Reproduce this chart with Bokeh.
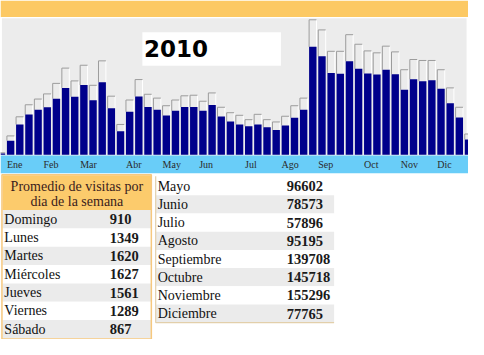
from bokeh.plotting import figure
from bokeh.models import Range1d, ColumnDataSource
from bokeh.core.properties import value
from bokeh.embed import file_html
from bokeh.resources import INLINE

# ---------------- data ----------------
week_index = list(range(52))
# weekly visits (dark bars), relative units
weekly_visits = [1.3, 14.7, 31.7, 42, 47, 49.7, 58.7, 70, 60.7, 73, 57, 76, 48.7, 24.7,
                 45, 61, 50, 47, 41, 46, 50, 50, 46, 52, 40, 34.7, 31.7, 29.7, 31.7, 28.7,
                 26, 30.7, 38.7, 47, 113, 103, 85.7, 84.7, 98, 90, 85, 84, 89, 84.3, 68,
                 79, 77, 78, 69, 54, 39, 16]
# weekly upper value (grey outlined bars)
weekly_upper = [2.0, 19.7, 39.7, 52.3, 58.3, 63.7, 74.7, 90.7, 77.3, 93.7, 72.7, 98.3, 61.3,
                31.7, 57.3, 78.7, 63.3, 59.3, 51.3, 57.3, 61.7, 62.3, 56, 64.7, 49.7, 44,
                41.3, 36.7, 42.3, 36.7, 34.3, 40.3, 51.3, 59.3, 141.3, 130.7, 108.3, 108.3,
                125.7, 115.7, 108.7, 106.7, 113.7, 107.7, 89, 99.7, 98.7, 98.7, 89, 70, 49.7,
                21.7]
month_names = ["Ene", "Feb", "Mar", "Abr", "May", "Jun", "Jul", "Ago", "Sep", "Oct", "Nov", "Dic"]
month_start_week = [1, 5, 9, 14, 18, 22, 27, 31, 35, 40, 44, 48]
title_year = "2010"

weekday_header = ["Promedio de visitas por", "dia de la semana"]
weekday_names = ["Domingo", "Lunes", "Martes", "Miércoles", "Jueves", "Viernes", "Sábado"]
weekday_avg = [910, 1349, 1620, 1627, 1561, 1289, 867]

month_table_names = ["Mayo", "Junio", "Julio", "Agosto", "Septiembre", "Octubre",
                     "Noviembre", "Diciembre"]
month_table_visits = [96602, 78573, 57896, 95195, 139708, 145718, 155296, 77765]

# ---------------- layout (reference pixel frame) ----------------
W, H = 468, 339
REF_W, REF_H = 484, 355
PX_PER_WEEK = 9.47
FIRST_CENTER = 1.0
BASE = 161.5
BAR_W = 0.81

ORANGE = "#FCC964"
GRAY_BG = "#ECECEC"
BLUE = "#69CDF8"
NAVY = "#00008B"
ROW_GRAY = "#EBEBEB"
SERIF = value("Liberation Serif")

p = figure(width=W, height=H, x_range=Range1d(0, REF_W), y_range=Range1d(REF_H, 0),
           x_axis_type=None, y_axis_type=None, output_backend="svg",
           toolbar_location=None, min_border=0)
p.grid.visible = False
p.outline_line_color = None
p.background_fill_color = "white"
p.border_fill_color = "white"

p.extra_x_ranges = {"wk": Range1d(-FIRST_CENTER / PX_PER_WEEK, (REF_W - FIRST_CENTER) / PX_PER_WEEK)}
p.extra_y_ranges = {"v": Range1d(BASE - REF_H, BASE)}

# page bands
p.quad(left=[0], right=[REF_W], top=[0], bottom=[17.3], fill_color=ORANGE, line_color=None)
p.quad(left=[1.5], right=[482], top=[18.5], bottom=[162.3], fill_color=GRAY_BG, line_color=None)
p.quad(left=[0], right=[REF_W], top=[162.3], bottom=[181], fill_color=BLUE, line_color=None)

# title box
p.quad(left=[146.7], right=[290], top=[33.3], bottom=[68.3], fill_color="white", line_color=None)
p.text(x=[148.5], y=[50], text=[title_year], text_font=value("DejaVu Sans"),
       text_font_style="bold", text_font_size=value("23px"), text_color="black",
       text_baseline="middle", text_align="left")

# bars
left = [w - BAR_W / 2 for w in week_index]
right = [w + BAR_W / 2 for w in week_index]
src = ColumnDataSource(dict(x=week_index, top=weekly_visits, upper=weekly_upper,
                            left=left, right=right))
p.vbar(x="x", width=BAR_W, bottom=0, top="upper", source=src, fill_color=GRAY_BG,
       line_color=None, x_range_name="wk", y_range_name="v")
p.segment(x0="right", y0="top", x1="right", y1="upper", source=src, line_color="white",
          line_width=1, x_range_name="wk", y_range_name="v")
p.segment(x0="left", y0="top", x1="left", y1="upper", source=src, line_color="#9C9C9C",
          line_width=1, x_range_name="wk", y_range_name="v")
p.segment(x0="left", y0="upper", x1="right", y1="upper", source=src, line_color="#9C9C9C",
          line_width=1, x_range_name="wk", y_range_name="v")
p.vbar(x="x", width=BAR_W, bottom=0, top="top", source=src, fill_color=NAVY,
       line_color=None, x_range_name="wk", y_range_name="v")

# month labels
p.text(x=[m - BAR_W / 2 for m in month_start_week], y=[171.5] * len(month_names),
       text=month_names, text_font=SERIF, text_font_size=value("10px"),
       text_color="#2B2B2B", text_baseline="middle", text_align="left",
       x_range_name="wk")

# ---------------- left table ----------------
LT_L, LT_R = 2, 156
HDR_T, HDR_B = 183, 219.5
ROW_H1 = 19.2
p.quad(left=[LT_L], right=[LT_R], top=[HDR_T], bottom=[HDR_B], fill_color="#FCCB6C",
       line_color=None)
n1 = len(weekday_names)
p.quad(left=[LT_L] * n1, right=[LT_R] * n1,
       top=[HDR_B + ROW_H1 * i for i in range(n1)],
       bottom=[HDR_B + ROW_H1 * (i + 1) for i in range(n1)],
       fill_color=[ROW_GRAY if i % 2 == 0 else "white" for i in range(n1)], line_color=None)
p.quad(left=[1.5], right=[156], top=[182.5], bottom=[354.5], fill_color=None,
       line_color="#F6C87E", line_width=1.5)
p.text(x=[(LT_L + LT_R) / 2] * 2, y=[194.5, 211], text=weekday_header, text_font=SERIF,
       text_font_size=value("14px"), text_color="#3A1C1C", text_baseline="middle",
       text_align="center")
ys1 = [HDR_B + ROW_H1 * (i + 0.5) for i in range(n1)]
p.text(x=[4] * n1, y=ys1, text=weekday_names, text_font=SERIF,
       text_font_size=value("14px"), text_color="#111111", text_baseline="middle")
p.text(x=[113] * n1, y=ys1, text=[str(v) for v in weekday_avg], text_font=SERIF,
       text_font_style="bold", text_font_size=value("14.5px"), text_color="#1A1A1A",
       text_baseline="middle")

# ---------------- right table ----------------
RT_L, RT_R = 160.5, 345
RT_T = 185
ROW_H2 = 19.05
n2 = len(month_table_names)
p.quad(left=[RT_L] * n2, right=[RT_R] * n2,
       top=[RT_T + ROW_H2 * i for i in range(n2)],
       bottom=[RT_T + ROW_H2 * (i + 1) for i in range(n2)],
       fill_color=["white" if i % 2 == 0 else ROW_GRAY for i in range(n2)], line_color=None)
bottom2 = RT_T + ROW_H2 * n2
p.segment(x0=[RT_L, RT_L], y0=[RT_T - 1, bottom2], x1=[RT_L, RT_R], y1=[bottom2, bottom2],
          line_color="#E2CFAA", line_width=1.2)
ys2 = [RT_T + ROW_H2 * (i + 0.5) for i in range(n2)]
p.text(x=[162.5] * n2, y=ys2, text=month_table_names, text_font=SERIF,
       text_font_size=value("14px"), text_color="#111111", text_baseline="middle")
p.text(x=[296] * n2, y=ys2, text=[str(v) for v in month_table_visits], text_font=SERIF,
       text_font_style="bold", text_font_size=value("14.5px"), text_color="#1A1A1A",
       text_baseline="middle")

open("out.html", "w").write(file_html(p, INLINE))
